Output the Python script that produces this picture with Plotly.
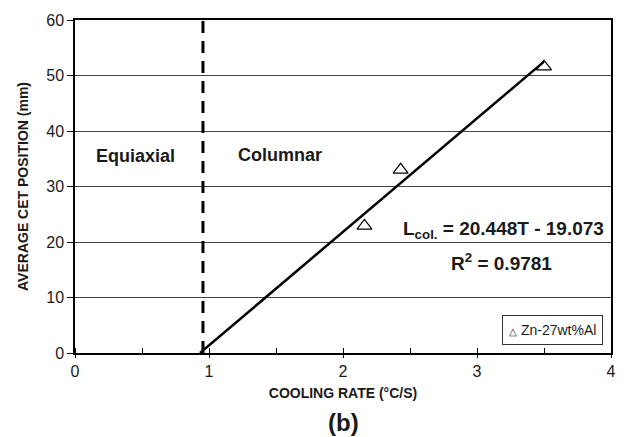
import plotly.graph_objects as go

# Measured CET positions for Zn-27wt%Al
cooling_rate = [2.16, 2.43, 3.50]          # °C/s
cet_position = [22.9, 33.0, 51.6]          # mm
series_name = "Zn-27wt%Al"

# Linear fit L_col = a*T + b
fit_slope = 20.448
fit_intercept = -19.073
fit_r2 = 0.9781
fit_t_end = 3.5

# Equiaxial / columnar boundary
boundary_rate = 0.955

x_ticks = [0, 1, 2, 3, 4]
y_ticks = [0, 10, 20, 30, 40, 50, 60]

FONT = "Liberation Sans, Arial, Helvetica, sans-serif"
INK = "#1a1a1a"

fit_t_start = -fit_intercept / fit_slope
fit_x = [fit_t_start, fit_t_end]
fit_y = [fit_slope * t + fit_intercept for t in fit_x]

fig = go.Figure()

# boundary (dashed vertical)
fig.add_trace(go.Scatter(
    x=[boundary_rate, boundary_rate], y=[y_ticks[0], y_ticks[-1]],
    mode="lines", line=dict(color="black", width=3, dash="12px,8px"),
    showlegend=False, hoverinfo="skip"))

# fitted line
fig.add_trace(go.Scatter(
    x=fit_x, y=fit_y, mode="lines",
    line=dict(color="black", width=2.5),
    showlegend=False, hoverinfo="skip"))

# measured points
fig.add_trace(go.Scatter(
    x=cooling_rate, y=cet_position, mode="markers", name=series_name,
    marker=dict(symbol="triangle-up-open", size=13, color="black",
                line=dict(width=1.2, color="black")),
    showlegend=False))

fig.update_layout(
    width=628, height=437,
    margin=dict(l=75, r=13, t=15, b=84),
    paper_bgcolor="white", plot_bgcolor="white",
    font=dict(family=FONT, color=INK, size=16),
    showlegend=False,
    xaxis=dict(
        range=[0, 4], tickvals=x_ticks, ticktext=[str(v) for v in x_ticks],
        showgrid=False, zeroline=False,
        showline=True, linecolor="black", linewidth=1.5, mirror=True,
        ticks="outside", ticklen=3, tickwidth=1, tickcolor="black",
        minor=dict(dtick=0.5, ticks="inside", ticklen=5, tickwidth=1, tickcolor="black"),
        tickfont=dict(size=16, family=FONT, color=INK),
        title=dict(text="<b>COOLING RATE (°C/S)</b>", font=dict(size=14, family=FONT, color=INK),
                   standoff=9),
    ),
    yaxis=dict(
        range=[0, 60], tickvals=y_ticks, ticktext=[str(v) for v in y_ticks],
        showgrid=True, gridcolor="#444", gridwidth=1, zeroline=False,
        showline=True, linecolor="black", linewidth=1.5, mirror=True,
        ticks="outside", ticklen=6, tickwidth=1, tickcolor="black",
        tickfont=dict(size=16, family=FONT, color=INK),
        title=dict(text="<b>AVERAGE CET POSITION (mm)</b>", font=dict(size=14, family=FONT, color=INK),
                   standoff=14),
    ),
)

bold = dict(family=FONT, size=18, color=INK)
eq_font = dict(family=FONT, size=19, color=INK)

fig.add_annotation(x=0.45, y=35.5, text="<b>Equiaxial</b>", showarrow=False, font=bold)
fig.add_annotation(x=1.53, y=35.7, text="<b>Columnar</b>", showarrow=False, font=bold)
fig.add_annotation(x=3.2, y=22.1,
                   text=f"<b>L<sub>col.</sub> = {fit_slope:.3f}T - {abs(fit_intercept):.3f}</b>",
                   showarrow=False, font=eq_font)
fig.add_annotation(x=3.18, y=16.4, text=f"<b>R<sup>2</sup> = {fit_r2:.4f}</b>",
                   showarrow=False, font=eq_font)

# key box for the measured series
fig.add_annotation(xref="paper", yref="paper", x=0.985, y=0.025,
                   xanchor="right", yanchor="bottom",
                   text=f"<span style='font-size:10px'>△</span> {series_name}",
                   showarrow=False, bgcolor="white", bordercolor="#333", borderwidth=1,
                   borderpad=6, font=dict(family=FONT, size=14, color=INK))

fig.add_annotation(xref="paper", yref="paper", x=0.5, y=-0.208, yanchor="middle",
                   text="<b>(b)</b>", showarrow=False,
                   font=dict(family=FONT, size=24, color=INK))

fig.write_html("out.html")
